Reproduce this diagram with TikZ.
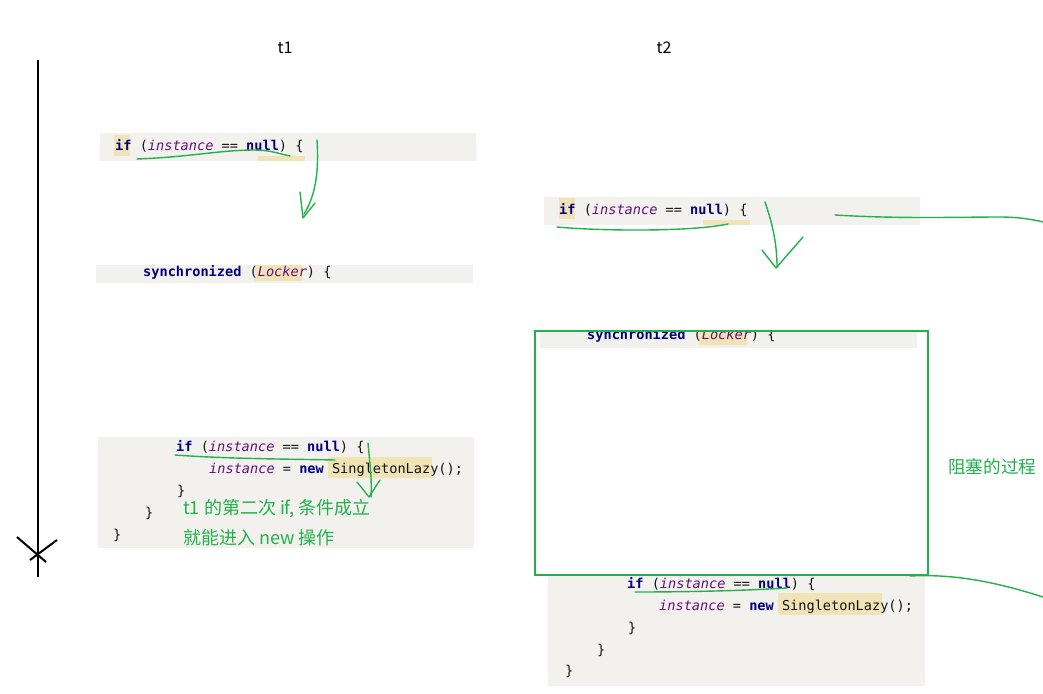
\documentclass[tikz,border=0pt]{standalone}
\usepackage{fontspec}
\setmonofont{DejaVu Sans Mono}
\newfontfamily\cjk{Noto Sans CJK SC}
\definecolor{gr}{RGB}{34,177,76}
\definecolor{codebg}{RGB}{243,241,237}
\definecolor{kwc}{RGB}{0,0,128}
\definecolor{ivc}{RGB}{102,14,122}
\definecolor{hl}{RGB}{240,228,182}
\definecolor{pc}{RGB}{20,20,20}
\newcommand\kw[1]{{\bfseries\color{kwc}#1}}
\newcommand\iv[1]{{\itshape\color{ivc}#1}}
\tikzset{
  code/.style={anchor=base west,inner sep=0pt,font=\ttfamily\fontsize{13.6}{16}\selectfont,text=pc},
  snip/.style={fill=codebg,draw=none},
  hlbox/.style={fill=hl,draw=none},
  gline/.style={draw=gr,line width=1.4pt,line cap=round,line join=round},
  gtext/.style={anchor=base west,inner sep=0pt,text=gr,font=\cjk\fontsize{18}{20}\selectfont},
  title/.style={inner sep=0pt,font=\cjk\fontsize{16}{18}\selectfont},
}
\begin{document}
\begin{tikzpicture}[x=1pt,y=-1pt]
\useasboundingbox (0,0) rectangle (1043,693);
\fill[white] (0,0) rectangle (1043,693);
% timeline
\coordinate (tA) at (38,60);
\coordinate (tB) at (38,577);
\draw[line width=2.2pt] (tA) -- (tB);
\draw[line width=2pt] (17,537) -- (46,562);
\draw[line width=2pt] (30,560) -- (57,540);
\node[title] (t1) at (285,48) {t1};
\node[title] (t2) at (664,48) {t2};
% snippet 1
\fill[snip] (100,133) rectangle (476,161);
\fill[hlbox] (114,135) rectangle (130,156);
\fill[hlbox] (258,156) rectangle (305,161);
\node[code] (s1) at (115,150) {\kw{if} (\iv{instance} == \kw{null}) \{};
% snippet 2
\fill[snip] (96,265) rectangle (473,283);
\fill[hlbox] (255,265) rectangle (302,281);
\node[code] (s2) at (143,276) {\kw{synchronized} (\iv{Locker}) \{};
% snippet 3
\fill[snip] (98,437) rectangle (474,548);
\fill[hlbox] (328,457) rectangle (432,478);
\node[code] (s3a) at (176,451) {\kw{if} (\iv{instance} == \kw{null}) \{};
\node[code] (s3b) at (209,473) {\iv{instance} = \kw{new} SingletonLazy();};
\node[code] (s3c) at (177,495) {\}};
\node[code] (s3d) at (145,517) {\}};
\node[code] (s3e) at (113,539) {\}};
\node[gtext] (n1) at (183,514) {t1 的第二次 if, 条件成立};
\node[gtext] (n2) at (183,544) {就能进入 new 操作};
% snippet 4
\fill[snip] (544,197) rectangle (920,225);
\fill[hlbox] (559,198) rectangle (575,219);
\fill[hlbox] (703,220) rectangle (750,225);
\node[code] (s4) at (559,214) {\kw{if} (\iv{instance} == \kw{null}) \{};
% snippet 5 (clipped by box)
\begin{scope}
\clip (530,332) rectangle (930,360);
\fill[snip] (540,326) rectangle (917,348);
\fill[hlbox] (699,326) rectangle (747,345);
\node[code] (s5) at (587,339) {\kw{synchronized} (\iv{Locker}) \{};
\end{scope}
% snippet 6
\fill[snip] (548,574) rectangle (925,686);
\fill[hlbox] (778,593) rectangle (882,615);
\node[code] (s6a) at (627,588) {\kw{if} (\iv{instance} == \kw{null}) \{};
\node[code] (s6b) at (659,610) {\iv{instance} = \kw{new} SingletonLazy();};
\node[code] (s6c) at (628,632) {\}};
\node[code] (s6d) at (597,654) {\}};
\node[code] (s6e) at (565,675) {\}};
% blocking box
\draw[draw=gr,line width=2.2pt] (535,331) rectangle (928,575);
\node[gtext,font=\cjk\fontsize{17.6}{20}\selectfont] (blk) at (948,473) {阻塞的过程};
% hand strokes
\draw[gline] (137,159) .. controls (190,157) and (220,150) .. (255,150) .. controls (270,150) and (280,154) .. (290,156);
\draw[gline] (317,140) .. controls (319,170) and (316,195) .. (304,214);
\draw[gline] (300,192) -- (303,218) -- (315,203);
\draw[gline] (557,227) .. controls (600,231) and (690,232) .. (728,224);
\draw[gline] (765,202) .. controls (773,225) and (777,245) .. (777,267);
\draw[gline] (762,250) -- (776,268) -- (803,237);
\draw[gline] (835,215) .. controls (900,219) and (960,217) .. (1000,217) .. controls (1020,217) and (1035,220) .. (1043,222);
\draw[gline] (175,455) .. controls (230,459) and (290,459) .. (335,460);
\draw[gline] (368,443) .. controls (370,465) and (372,480) .. (371,497);
\draw[gline] (357,482) -- (369,497) -- (380,480);
\draw[gline] (635,592) .. controls (680,592) and (740,591) .. (787,588);
\draw[gline] (910,576) .. controls (950,574) and (990,580) .. (1043,597);
\end{tikzpicture}
\end{document}
